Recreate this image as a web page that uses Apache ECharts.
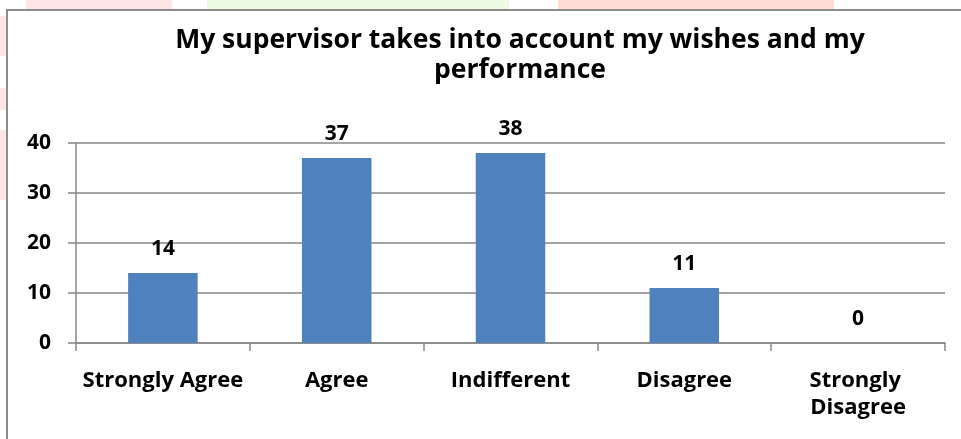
<!DOCTYPE html>
<html>
<head>
<meta charset="utf-8">
<script src="https://cdn.jsdelivr.net/npm/echarts@6/dist/echarts.min.js"></script>
<style>html,body{margin:0;padding:0;background:#fff;}#c{width:961px;height:439px;}</style>
</head>
<body>
<div id="c"></div>
<script>
const titleText = 'My supervisor takes into account my wishes and my\nperformance';
const categories = ['Strongly Agree', 'Agree', 'Indifferent', 'Disagree', 'Strongly Disagree'];
const values = [14, 37, 38, 11, 0];
const yTicks = [0, 10, 20, 30, 40];

const FONT = '"Open Sans"';
const chart = echarts.init(document.getElementById('c'));
chart.setOption({
  animation: false,
  backgroundColor: '#ffffff',
  graphic: [
    {type: 'rect', z: -10, shape: {x: 26, y: 0, width: 146, height: 10}, style: {fill: '#FFE6E6'}},
    {type: 'rect', z: -10, shape: {x: 207, y: 0, width: 302, height: 10}, style: {fill: '#EEFBE4'}},
    {type: 'rect', z: -10, shape: {x: 558, y: 0, width: 276, height: 10}, style: {fill: '#FFDCD5'}},
    {type: 'rect', z: -10, shape: {x: 0, y: 16, width: 6, height: 40}, style: {fill: '#FFE6E6'}},
    {type: 'rect', z: -10, shape: {x: 0, y: 88, width: 6, height: 22}, style: {fill: '#FFE6E6'}},
    {type: 'rect', z: -10, shape: {x: 0, y: 130, width: 6, height: 70}, style: {fill: '#FFE6E6'}},
    {type: 'rect', z: 1, shape: {x: 7, y: 10, width: 1100, height: 600}, style: {fill: 'none', stroke: '#8C8C8C', lineWidth: 2}}
  ],
  title: {
    text: titleText,
    left: 515,
    top: 20,
    textAlign: 'center',
    textStyle: {fontFamily: FONT, fontWeight: 'bold', fontSize: 26.5, lineHeight: 30, color: '#000'}
  },
  grid: {left: 76, right: 16, top: 143, bottom: 96, containLabel: false},
  xAxis: {
    type: 'category',
    data: categories,
    axisLine: {show: true, lineStyle: {color: '#868686', width: 1.5}},
    axisTick: {show: true, alignWithLabel: false, length: 8, lineStyle: {color: '#868686', width: 1.5}},
    axisLabel: {
      interval: 0, margin: 24, color: '#000', fontFamily: FONT, fontWeight: 'bold', fontSize: 22,
      lineHeight: 27, width: 168, overflow: 'break'
    },
    splitLine: {show: false}
  },
  yAxis: {
    type: 'value',
    min: yTicks[0],
    max: yTicks[yTicks.length - 1],
    interval: yTicks[1] - yTicks[0],
    axisLine: {show: true, lineStyle: {color: '#868686', width: 1.5}},
    axisTick: {show: true, length: 8, lineStyle: {color: '#868686', width: 1.5}},
    axisLabel: {margin: 25, color: '#000', fontFamily: FONT, fontWeight: 'bold', fontSize: 21},
    splitLine: {show: true, lineStyle: {color: '#868686', width: 1.5}}
  },
  series: [{
    type: 'bar',
    data: values,
    barWidth: '40%',
    itemStyle: {color: '#4F81BD'},
    label: {
      show: true, position: 'top', distance: 13, color: '#000',
      fontFamily: FONT, fontWeight: 'bold', fontSize: 21
    }
  }]
});
</script>
</body>
</html>
